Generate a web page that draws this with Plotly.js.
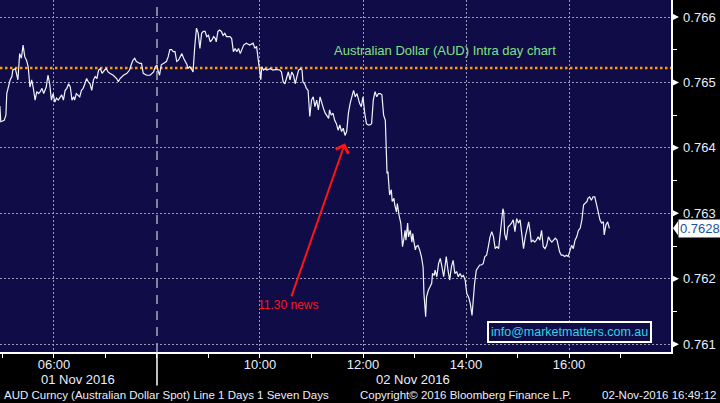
<!DOCTYPE html>
<html>
<head>
<meta charset="utf-8">
<script src="https://cdn.plot.ly/plotly-3.0.1.min.js"></script>
<style>
html,body{margin:0;padding:0;background:#000;}
#chart{width:720px;height:403px;}
</style>
</head>
<body>
<div id="chart"></div>
<script>
// ---- data ----
const times = [
"04:57","04:58","05:02","05:04","05:05","05:07","05:09","05:11","05:12","05:15","05:16","05:18","05:20","05:22","05:24","05:26","05:28","05:30","05:32","05:34","05:36","05:38","05:40","05:42","05:44","05:46","05:48","05:50","05:51","05:53","05:55","05:57","05:59",
"06:01","06:03","06:05","06:07","06:09","06:11","06:13","06:15","06:17","06:19","06:21","06:23","06:24","06:26","06:28","06:30","06:32","06:34","06:36","06:38","06:40","06:42","06:44","06:46","06:48","06:50","06:52","06:54","06:56","06:57","06:59",
"07:01","07:03","07:05","07:09","07:13","07:15","07:17","07:21","07:25","07:28","07:30","07:32","07:34","07:36","07:40","07:42","07:44","07:48","07:52","07:54","07:56","07:58",
"08:00","08:01","08:03","08:05","08:07","08:11","08:13","08:15","08:17","08:19","08:21","08:23","08:25","08:27","08:29","08:31","08:33","08:35","08:36","08:38","08:40","08:42","08:44","08:46","08:48","08:50","08:52","08:54","08:56","08:58",
"09:00","09:02","09:04","09:06","09:08","09:09","09:11","09:13","09:15","09:17","09:19","09:21","09:25","09:27","09:29","09:31","09:33","09:35","09:37","09:41","09:44","09:48","09:52","09:54","09:56","09:58",
"10:00","10:01","10:02","10:04","10:06","10:08","10:12","10:15","10:19","10:23","10:25","10:27","10:29","10:31","10:33","10:35","10:37","10:39","10:41","10:43","10:45","10:47","10:49","10:50","10:52","10:54","10:56","10:58",
"11:00","11:02","11:04","11:06","11:08","11:10","11:12","11:14","11:16","11:18","11:20","11:21","11:23","11:25","11:27","11:29","11:31","11:33","11:35","11:37","11:39","11:41","11:43","11:45","11:47","11:49","11:51","11:53","11:55","11:56","11:58",
"12:00","12:02","12:04","12:06","12:08","12:10","12:12","12:14","12:16","12:18","12:20","12:22","12:24","12:26","12:27","12:28","12:29","12:31","12:33","12:34","12:36","12:37","12:39","12:40","12:42","12:44","12:45","12:46","12:48","12:49","12:50","12:52","12:53","12:55","12:57","12:58","12:59",
"13:01","13:02","13:04","13:06","13:08","13:10","13:11","13:13","13:14","13:16","13:18","13:20","13:21","13:23","13:24","13:26","13:28","13:30","13:32","13:34","13:35","13:37","13:39","13:41","13:43","13:45","13:47","13:49","13:51","13:53","13:55","13:57","13:59",
"14:01","14:03","14:05","14:07","14:08","14:10","14:12","14:14","14:16","14:18","14:20","14:22","14:24","14:26","14:28","14:30","14:32","14:34","14:36","14:38","14:40","14:41","14:43","14:44","14:45","14:47","14:49","14:51","14:53","14:55","14:57","14:59",
"15:01","15:03","15:05","15:07","15:09","15:11","15:13","15:15","15:16","15:18","15:20","15:22","15:24","15:26","15:28","15:30","15:32","15:34","15:36","15:38","15:40","15:42","15:44","15:46","15:48","15:49","15:51","15:53","15:55","15:57","15:59",
"16:01","16:03","16:05","16:07","16:09","16:11","16:13","16:15","16:17","16:19","16:21","16:22","16:24","16:26","16:28","16:30","16:32","16:34","16:36","16:38","16:40","16:41","16:43","16:45","16:47"
];
const prices = [
0.76464,0.76440,0.76442,0.76450,0.76483,0.76496,0.76504,0.76509,0.76519,0.76521,0.76516,0.76504,0.76544,0.76537,0.76557,0.76539,0.76534,0.76524,0.76493,0.76504,0.76491,0.76473,0.76486,0.76483,0.76486,0.76491,0.76483,0.76491,0.76493,0.76511,0.76498,0.76473,0.76483,
0.76470,0.76476,0.76473,0.76478,0.76481,0.76473,0.76488,0.76491,0.76498,0.76493,0.76473,0.76478,0.76473,0.76483,0.76481,0.76478,0.76488,0.76491,0.76498,0.76506,0.76501,0.76498,0.76488,0.76504,0.76509,0.76506,0.76519,0.76521,0.76514,0.76516,0.76519,
0.76521,0.76516,0.76514,0.76511,0.76506,0.76501,0.76506,0.76511,0.76514,0.76519,0.76527,0.76534,0.76537,0.76532,0.76529,0.76529,0.76514,0.76511,0.76511,0.76514,0.76516,0.76524,
0.76527,0.76519,0.76511,0.76527,0.76529,0.76532,0.76539,0.76550,0.76550,0.76547,0.76547,0.76532,0.76534,0.76539,0.76544,0.76537,0.76532,0.76527,0.76521,0.76524,0.76521,0.76516,0.76555,0.76583,0.76575,0.76552,0.76575,0.76578,0.76578,0.76570,
0.76572,0.76562,0.76565,0.76570,0.76567,0.76562,0.76578,0.76580,0.76578,0.76572,0.76575,0.76570,0.76570,0.76567,0.76547,0.76552,0.76547,0.76552,0.76544,0.76557,0.76560,0.76557,0.76560,0.76552,0.76555,0.76537,
0.76516,0.76504,0.76524,0.76519,0.76521,0.76519,0.76521,0.76519,0.76520,0.76519,0.76516,0.76501,0.76498,0.76509,0.76516,0.76504,0.76516,0.76511,0.76498,0.76509,0.76519,0.76521,0.76519,0.76501,0.76498,0.76491,0.76488,0.76448,
0.76473,0.76478,0.76463,0.76473,0.76458,0.76478,0.76468,0.76460,0.76453,0.76448,0.76445,0.76458,0.76450,0.76453,0.76442,0.76437,0.76427,0.76435,0.76425,0.76430,0.76419,0.76425,0.76453,0.76468,0.76478,0.76488,0.76478,0.76483,0.76473,0.76468,0.76463,
0.76478,0.76453,0.76437,0.76435,0.76435,0.76437,0.76473,0.76486,0.76478,0.76483,0.76483,0.76481,0.76450,0.76442,0.76381,0.76361,0.76364,0.76328,0.76336,0.76318,0.76323,0.76313,0.76302,0.76315,0.76297,0.76285,0.76269,0.76249,0.76264,0.76274,0.76259,0.76285,0.76264,0.76274,0.76256,0.76269,0.76259,
0.76244,0.76249,0.76251,0.76244,0.76234,0.76218,0.76177,0.76142,0.76172,0.76182,0.76188,0.76193,0.76208,0.76205,0.76213,0.76203,0.76223,0.76231,0.76218,0.76203,0.76213,0.76234,0.76213,0.76198,0.76218,0.76228,0.76208,0.76211,0.76203,0.76208,0.76203,0.76205,0.76198,
0.76177,0.76172,0.76162,0.76144,0.76167,0.76193,0.76213,0.76218,0.76221,0.76221,0.76223,0.76234,0.76236,0.76249,0.76264,0.76272,0.76264,0.76246,0.76249,0.76246,0.76269,0.76290,0.76307,0.76302,0.76269,0.76259,0.76279,0.76282,0.76285,0.76290,0.76272,0.76292,
0.76285,0.76290,0.76269,0.76246,0.76264,0.76274,0.76287,0.76269,0.76256,0.76259,0.76256,0.76259,0.76264,0.76259,0.76274,0.76249,0.76246,0.76251,0.76264,0.76259,0.76256,0.76259,0.76262,0.76259,0.76249,0.76241,0.76236,0.76236,0.76234,0.76236,0.76234,
0.76244,0.76251,0.76246,0.76259,0.76264,0.76274,0.76277,0.76290,0.76313,0.76315,0.76318,0.76323,0.76325,0.76320,0.76325,0.76325,0.76315,0.76302,0.76290,0.76285,0.76287,0.76267,0.76282,0.76287,0.76277
];
const xTickHours = [6, 10, 12, 14, 16];
const xTickLabels = ["06:00", "10:00", "12:00", "14:00", "16:00"];
const xMinorHours = [5, 7, 8, 9, 11, 13, 15, 17];
const yTickVals = [0.761, 0.762, 0.763, 0.764, 0.765, 0.766];
const yTickLabels = ["0.761", "0.762", "0.763", "0.764", "0.765", "0.766"];
const yMinorVals = [0.7615, 0.7625, 0.7635, 0.7645, 0.7655];
const prevClose = 0.76522;
const sessionBreakHour = 8;
const dayLabels = ["01 Nov 2016", "02 Nov 2016"];
const newsLabel = "11.30 news";
const chartTitle = "Australian Dollar (AUD) Intra day chart";
const footerLeft = "AUD Curncy (Australian Dollar Spot) Line 1 Days 1 Seven Days";
const footerMid = "Copyright\u00A9 2016 Bloomberg Finance L.P.";
const footerRight = "02-Nov-2016 16:49:12";
const emailText = "info@marketmatters.com.au";

// ---- build ----
const toHours = s => { const [h, m] = s.split(":").map(Number); return h + m / 60; };
const xs = times.map(toHours);
const xRange = [4.952, 17.98];
const yRange = [0.76088, 0.76626];
const W = 720, H = 403, ML = 0, MR = 49, MT = 0, MB = 51;
const plotW = W - ML - MR, plotH = H - MT - MB;
const pxY = (yRange[1] - yRange[0]) / plotH;
const lastVal = prices[prices.length - 1];

const FONT = "Liberation Sans, Arial, sans-serif";
const GRID = "#9a9ab4";
const BG = "#100c48";
const TXT = "#e8eeff";

const traces = [
  {
    x: [xRange[0], xRange[1]], y: [prevClose, prevClose], mode: "lines",
    line: {color: "#ff9a00", width: 2.5, dash: "2.5px,2.5px"}, hoverinfo: "skip"
  },
  {
    x: xs, y: prices, mode: "lines",
    line: {color: "#f2f2fa", width: 1.2}, hoverinfo: "skip"
  }
];

// right-pointing triangles at each major y tick, attached to the axis line
const tri = (v, x0, x1, half) =>
  "M " + (1 + x0 / plotW) + "," + (v + half * pxY) +
  " L " + (1 + x1 / plotW) + "," + v +
  " L " + (1 + x0 / plotW) + "," + (v - half * pxY) + " Z";
const tickShapes = yTickVals.map(v => ({
  type: "path", xref: "paper", yref: "y", path: tri(v, 1, 8, 3.5),
  fillcolor: "#ffffff", line: {width: 0}
}));

const layout = {
  width: W, height: H,
  margin: {l: ML, r: MR, t: MT, b: MB, pad: 0},
  paper_bgcolor: "#000000", plot_bgcolor: BG,
  showlegend: false,
  font: {family: FONT, color: TXT, size: 13},
  xaxis: {
    range: xRange, fixedrange: true,
    tickmode: "array", tickvals: xTickHours, ticktext: xTickLabels,
    ticks: "outside", ticklen: 4, tickcolor: "#ffffff", tickwidth: 1,
    ticklabelstandoff: -4,
    showline: true, linecolor: "#ffffff", linewidth: 1.5,
    showgrid: true, gridcolor: GRID, griddash: "2px,2px", gridwidth: 1,
    zeroline: false,
    tickfont: {family: FONT, size: 13, color: TXT},
    minor: {tickmode: "array", tickvals: xMinorHours, ticks: "outside", ticklen: 4, tickcolor: "#ffffff", showgrid: false}
  },
  yaxis: {
    range: yRange, fixedrange: true, side: "right",
    tickmode: "array", tickvals: yTickVals, ticktext: yTickLabels,
    ticks: "", ticklabelstandoff: 8,
    showline: true, linecolor: "#ffffff", linewidth: 1.5,
    showgrid: true, gridcolor: GRID, griddash: "2px,2px", gridwidth: 1,
    zeroline: false,
    tickfont: {family: FONT, size: 13, color: TXT},
    minor: {tickmode: "array", tickvals: yMinorVals, ticks: "outside", ticklen: 4, tickcolor: "#ffffff", showgrid: false}
  },
  shapes: [
    {type: "line", xref: "x", yref: "paper", x0: sessionBreakHour, x1: sessionBreakHour, y0: 0, y1: 1,
     line: {color: "#a8a8c0", width: 1.5, dash: "9px,7px"}, layer: "below"},
    {type: "line", xref: "x", yref: "paper", x0: sessionBreakHour, x1: sessionBreakHour, y0: -0.095, y1: 0,
     line: {color: "#ffffff", width: 1.5}},
    {type: "path", xref: "paper", yref: "y", path: tri(lastVal, 7, 2, 7),
     fillcolor: "#ffffff", line: {width: 0}}
  ].concat(tickShapes),
  annotations: [
    {xref: "paper", yref: "paper", x: 0.663, y: 0.856, xanchor: "center", yanchor: "middle",
     text: chartTitle, showarrow: false,
     font: {family: FONT, size: 13, color: "#82e082"}},
    {xref: "x", yref: "y", x: 11.65, y: 0.76407, axref: "x", ayref: "y", ax: 10.553, ay: 0.76160,
     text: newsLabel, showarrow: true, arrowhead: 4, arrowsize: 1.3, arrowwidth: 2, arrowcolor: "#ff1414",
     standoff: 0, font: {family: FONT, size: 12, color: "#ff1414"}},
    {xref: "paper", yref: "paper", x: 0.849, y: 0.058, xanchor: "center", yanchor: "middle",
     text: emailText, showarrow: false,
     bgcolor: BG, bordercolor: "#ffffff", borderwidth: 2, borderpad: 2,
     font: {family: FONT, size: 12.5, color: "#2ed2e6"}},
    {xref: "paper", yref: "y", x: 1, xanchor: "left", yanchor: "middle", xshift: 7, y: lastVal,
     text: lastVal.toFixed(4),
     showarrow: false, bgcolor: "#ffffff", borderpad: 1,
     font: {family: FONT, size: 13, color: "#1d4f9c"}},
    {xref: "x", yref: "paper", x: 6.47, y: -0.077, xanchor: "center", yanchor: "middle",
     text: dayLabels[0], showarrow: false,
     font: {family: FONT, size: 13, color: TXT}},
    {xref: "x", yref: "paper", x: 12.97, y: -0.077, xanchor: "center", yanchor: "middle",
     text: dayLabels[1], showarrow: false,
     font: {family: FONT, size: 13, color: TXT}},
    {xref: "paper", yref: "paper", x: 0.003, xanchor: "left", yanchor: "middle", y: -0.123,
     text: footerLeft, showarrow: false,
     font: {family: FONT, size: 11.5, color: TXT}},
    {xref: "paper", yref: "paper", x: 0.533, xanchor: "left", yanchor: "middle", y: -0.123,
     text: footerMid, showarrow: false,
     font: {family: FONT, size: 11.5, color: TXT}},
    {xref: "paper", yref: "paper", x: 718 / plotW, xanchor: "right", yanchor: "middle", y: -0.123,
     text: footerRight, showarrow: false,
     font: {family: FONT, size: 11.5, color: TXT}}
  ]
};

Plotly.newPlot("chart", traces, layout, {staticPlot: true, displayModeBar: false});
</script>
</body>
</html>
